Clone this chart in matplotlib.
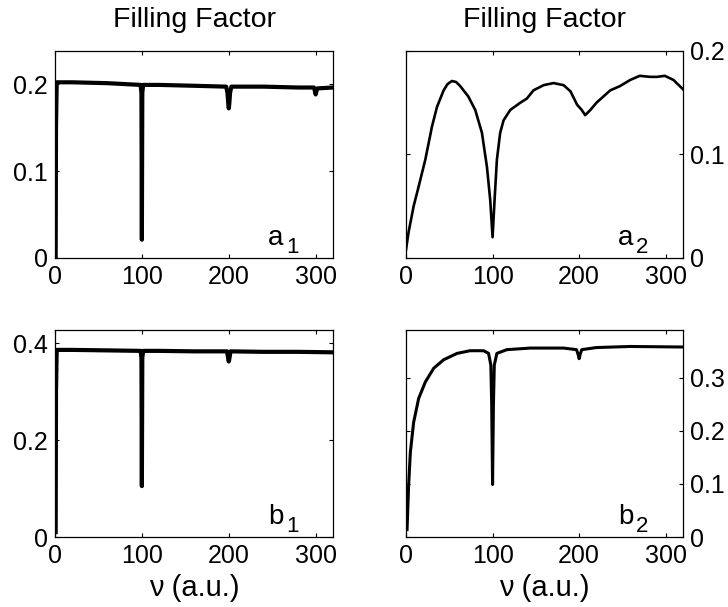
"""
Filling factor versus frequency for two driving schemes (a, b),
left column: sharp resonances, right column: broad response.
"""
import matplotlib
matplotlib.use('Agg')
import matplotlib.pyplot as plt

plt.rcParams['font.family'] = ['Liberation Sans', 'DejaVu Sans']
plt.rcParams['font.size'] = 18

# panel a1: flat level with narrow dips at 100, 200, 300
a1_x = [0.8, 1.2, 2, 20, 60, 98.5, 99.5, 100, 100.5, 101.5, 120, 160, 197, 198.5,
        199.5, 200, 200.5, 201.5, 203, 240, 280, 298, 299.3, 300, 300.7, 302, 320]
a1_y = [0.0, 0.15, 0.202, 0.202, 0.201, 0.199, 0.19, 0.021, 0.19, 0.199, 0.199,
        0.198, 0.197, 0.190, 0.176, 0.172, 0.176, 0.190, 0.197, 0.197, 0.196,
        0.196, 0.191, 0.188, 0.191, 0.195, 0.196]

# panel a2: broad response with minima near 100 and 207
a2_x = [0, 3, 8.8, 14.6, 22.3, 30, 35.8, 43.5, 48, 53, 58, 62.7, 72, 80, 87.7,
        93.5, 97.3, 100, 102.3, 105, 108.8, 112.7, 120.4, 132, 139.6, 147.3,
        159, 170.4, 182, 190, 197.7, 203, 207, 213, 220, 228, 236, 247, 259,
        270, 282, 290, 299, 309, 320]
a2_y = [0.008, 0.025, 0.050, 0.069, 0.095, 0.127, 0.146, 0.162, 0.168, 0.171,
        0.170, 0.166, 0.156, 0.143, 0.121, 0.088, 0.056, 0.020, 0.056, 0.095,
        0.121, 0.133, 0.143, 0.150, 0.154, 0.162, 0.167, 0.169, 0.167, 0.161,
        0.148, 0.143, 0.138, 0.143, 0.150, 0.156, 0.162, 0.166, 0.172, 0.176,
        0.175, 0.175, 0.176, 0.172, 0.163]

# panel b1: flat level with dips at 100 and 200
b1_x = [0.8, 1.2, 2, 20, 60, 98.5, 99.5, 100, 100.5, 101.5, 120, 160, 198,
        199.5, 200, 200.5, 202, 240, 280, 320]
b1_y = [0.01, 0.3, 0.386, 0.386, 0.385, 0.384, 0.37, 0.105, 0.37, 0.384, 0.384,
        0.383, 0.383, 0.366, 0.362, 0.366, 0.383, 0.382, 0.382, 0.381]

# panel b2: fast rise, then plateau with dips at 100 and 200
b2_x = [1.2, 3, 5, 8.8, 14.6, 22.3, 32, 43.5, 59, 74, 89.6, 95.4, 98, 99, 100,
        101, 102, 105, 116.5, 143.5, 182, 197, 199, 200, 201, 203, 220, 259, 320]
b2_y = [0.014, 0.096, 0.159, 0.216, 0.261, 0.292, 0.318, 0.334, 0.346, 0.351,
        0.351, 0.346, 0.324, 0.25, 0.099, 0.25, 0.324, 0.346, 0.353, 0.356,
        0.356, 0.353, 0.343, 0.336, 0.343, 0.353, 0.357, 0.359, 0.358]

x_ticks = [0, 100, 200, 300]


def style_axes(ax, ylim, yticks, right=False):
    ax.set_xlim(0, 320)
    ax.set_ylim(*ylim)
    ax.set_xticks(x_ticks)
    ax.set_yticks(yticks)
    ax.set_yticklabels(['0' if t == 0 else f'{t:g}' for t in yticks])
    ax.tick_params(direction='in', length=3, width=0.8, top=True, right=True,
                   pad=5, labelsize=18)
    if right:
        ax.yaxis.tick_right()
        ax.yaxis.set_ticks_position('both')
        ax.tick_params(axis='y', labelleft=False, labelright=True)
    for s in ax.spines.values():
        s.set_linewidth(0.9)


def tag(ax, letter, num):
    ax.text(0.766, 0.063, letter, transform=ax.transAxes, ha='left',
            va='baseline', fontsize=20)
    ax.text(0.83, 0.024, num, transform=ax.transAxes, ha='left',
            va='baseline', fontsize=16)


fig = plt.figure(figsize=(7.28, 6.07), dpi=100)
w, h = 0.382, 0.341
ax_a1 = fig.add_axes([0.0755, 0.575, w, h])
ax_a2 = fig.add_axes([0.5577, 0.575, 0.3805, h])
ax_b1 = fig.add_axes([0.0755, 0.1153, w, h])
ax_b2 = fig.add_axes([0.5577, 0.1153, 0.3805, h])

ax_a1.plot(a1_x, a1_y, color='k', lw=3.0, solid_joinstyle='round')
ax_a2.plot(a2_x, a2_y, color='k', lw=1.9, solid_joinstyle='round')
ax_b1.plot(b1_x, b1_y, color='k', lw=3.0, solid_joinstyle='round')
ax_b2.plot(b2_x, b2_y, color='k', lw=2.2, solid_joinstyle='round')

style_axes(ax_a1, (0, 0.238), [0, 0.1, 0.2])
style_axes(ax_a2, (0, 0.2), [0, 0.1, 0.2], right=True)
style_axes(ax_b1, (0, 0.427), [0, 0.2, 0.4])
style_axes(ax_b2, (0, 0.39), [0, 0.1, 0.2, 0.3], right=True)

ax_a1.set_title('Filling Factor', fontsize=20.5, pad=17)
ax_a2.set_title('Filling Factor', fontsize=20.5, pad=17)
ax_b1.set_xlabel('ν (a.u.)', fontsize=21, labelpad=4)
ax_b2.set_xlabel('ν (a.u.)', fontsize=21, labelpad=4)

tag(ax_a1, 'a', '1')
tag(ax_a2, 'a', '2')
tag(ax_b1, 'b', '1')
tag(ax_b2, 'b', '2')

plt.savefig('out.png', dpi=100)
